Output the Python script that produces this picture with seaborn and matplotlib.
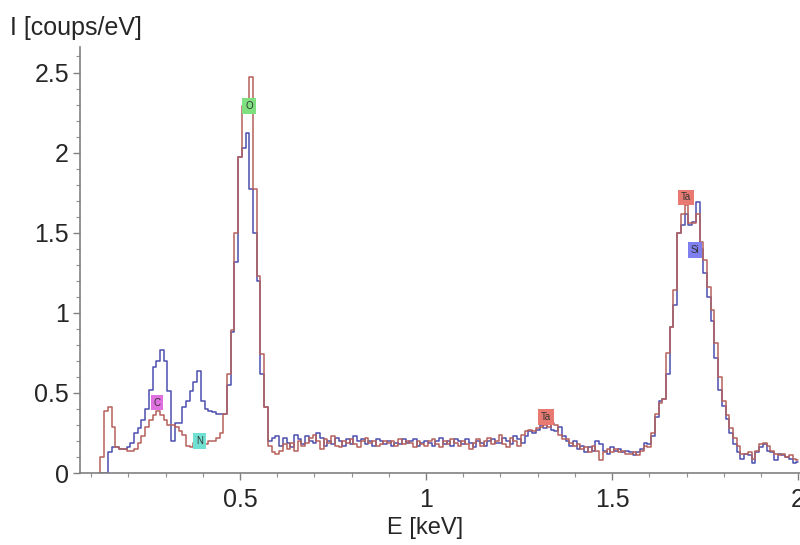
import numpy as np
import pandas as pd
import seaborn as sns
import matplotlib.pyplot as plt
from matplotlib.ticker import MultipleLocator

# Spectre EDS : deux acquisitions, canaux de 10 eV de 0.12 a 2.00 keV
e_debut = 0.12
largeur_canal = 0.01

# spectre rouge (I en coups/eV)
spectre_rouge = [
    0.00, 0.10, 0.39, 0.41, 0.29, 0.16, 0.15, 0.15,
    0.14, 0.14, 0.15, 0.19, 0.23, 0.29, 0.33, 0.36, 0.385, 0.36,
    0.33, 0.30, 0.30, 0.29, 0.26, 0.24, 0.17, 0.16, 0.19, 0.19,
    0.19, 0.18, 0.20, 0.20, 0.22, 0.25, 0.37, 0.62, 0.89, 1.50,
    1.97, 2.29, 2.29, 2.47, 1.77, 1.23, 0.74, 0.41, 0.17, 0.13,
    0.12, 0.14, 0.18, 0.15, 0.19, 0.14, 0.20, 0.17, 0.19, 0.22,
    0.24, 0.20, 0.15, 0.21, 0.19, 0.23, 0.17, 0.16, 0.20, 0.19,
    0.21, 0.18, 0.16, 0.20, 0.22, 0.19, 0.20, 0.17, 0.18, 0.20,
    0.19, 0.20, 0.17, 0.21, 0.18, 0.20, 0.19, 0.16, 0.20, 0.18,
    0.17, 0.20, 0.21, 0.18, 0.16, 0.20, 0.18, 0.21, 0.19, 0.17,
    0.20, 0.18, 0.15, 0.19, 0.21, 0.17, 0.20, 0.22, 0.18, 0.20,
    0.24, 0.18, 0.16, 0.22, 0.20, 0.17, 0.24, 0.26, 0.27, 0.26,
    0.28, 0.29, 0.30, 0.29, 0.31, 0.30, 0.24, 0.21, 0.21, 0.19,
    0.17, 0.18, 0.15, 0.16, 0.13, 0.17, 0.14, 0.08, 0.13, 0.15,
    0.13, 0.15, 0.13, 0.14, 0.12, 0.12, 0.13, 0.11, 0.14, 0.17,
    0.16, 0.25, 0.37, 0.44, 0.46, 0.75, 0.91, 1.14, 1.50, 1.62,
    1.67, 1.56, 1.56, 1.62, 1.44, 1.33, 1.16, 1.02, 0.81, 0.60,
    0.45, 0.36, 0.28, 0.22, 0.17, 0.12, 0.12, 0.13, 0.09, 0.14,
    0.18, 0.19, 0.17, 0.14, 0.12, 0.11, 0.12, 0.10, 0.11, 0.09,
    0.08,
]

# spectre bleu
spectre_bleu = [
    0.00, 0.00, 0.00, 0.13, 0.16, 0.16, 0.15, 0.15,
    0.16, 0.19, 0.25, 0.28, 0.33, 0.40, 0.52, 0.66, 0.70, 0.77,
    0.70, 0.51, 0.20, 0.31, 0.31, 0.41, 0.45, 0.51, 0.57, 0.64,
    0.45, 0.40, 0.39, 0.38, 0.37, 0.37, 0.37, 0.55, 0.88, 1.32,
    1.97, 2.03, 2.12, 1.77, 1.50, 1.20, 0.62, 0.41, 0.20, 0.22,
    0.23, 0.17, 0.22, 0.19, 0.16, 0.24, 0.21, 0.18, 0.23, 0.20,
    0.19, 0.25, 0.22, 0.17, 0.20, 0.18, 0.22, 0.20, 0.17, 0.21,
    0.18, 0.23, 0.20, 0.21, 0.18, 0.20, 0.17, 0.21, 0.20, 0.18,
    0.20, 0.17, 0.19, 0.18, 0.21, 0.19, 0.20, 0.21, 0.17, 0.19,
    0.20, 0.19, 0.17, 0.20, 0.22, 0.18, 0.20, 0.17, 0.21, 0.20,
    0.18, 0.21, 0.19, 0.16, 0.20, 0.19, 0.17, 0.20, 0.21, 0.19,
    0.19, 0.22, 0.20, 0.18, 0.23, 0.21, 0.19, 0.23, 0.26, 0.25,
    0.27, 0.30, 0.28, 0.31, 0.27, 0.26, 0.29, 0.23, 0.20, 0.17,
    0.20, 0.15, 0.17, 0.13, 0.16, 0.14, 0.20, 0.18, 0.14, 0.12,
    0.16, 0.14, 0.15, 0.13, 0.14, 0.13, 0.11, 0.13, 0.15, 0.19,
    0.18, 0.23, 0.35, 0.45, 0.46, 0.62, 0.91, 1.05, 1.50, 1.55,
    1.62, 1.55, 1.57, 1.69, 1.40, 1.25, 1.10, 0.95, 0.72, 0.52,
    0.42, 0.34, 0.25, 0.18, 0.13, 0.09, 0.12, 0.11, 0.06, 0.13,
    0.16, 0.18, 0.14, 0.13, 0.08, 0.12, 0.11, 0.10, 0.09, 0.06,
    0.07,
]

# etiquettes des raies : (texte, energie keV, intensite, couleur)
raies = [
    ("O", 0.524, 2.29, "#7fe07f"),
    ("C", 0.277, 0.44, "#e070e0"),
    ("N", 0.392, 0.20, "#70e0d2"),
    ("Ta", 1.323, 0.35, "#e87a72"),
    ("Ta", 1.699, 1.72, "#e87a72"),
    ("Si", 1.723, 1.39, "#7f7ff0"),
]

energie = np.round(e_debut + largeur_canal * np.arange(len(spectre_rouge)), 2)
df = pd.DataFrame({"E": energie, "rouge": spectre_rouge, "bleu": spectre_bleu})

sns.set_theme(style="ticks")
plt.rcParams["font.family"] = ["Liberation Sans", "DejaVu Sans"]

fig = plt.figure(figsize=(8, 5.45), dpi=100)
ax = fig.add_axes([0.1, 0.132, 0.9, 0.782])

sns.lineplot(data=df, x="E", y="bleu", ax=ax, color="#4b4fae", linewidth=1.1,
             drawstyle="steps-mid")
sns.lineplot(data=df, x="E", y="rouge", ax=ax, color="#b5615b", linewidth=1.1,
             drawstyle="steps-mid")

for texte, e, i, couleur in raies:
    ax.text(e, i, texte, fontsize=7, color="#333333", ha="center", va="center",
            bbox=dict(boxstyle="square,pad=0.3", fc=couleur, ec="none"))

ax.set_xlim(0.07, 2.005)
ax.set_ylim(0, 2.66)
ax.set_xticks([0.5, 1, 1.5, 2])
ax.set_xticklabels(["0.5", "1", "1.5", "2"])
ax.set_yticks([0, 0.5, 1, 1.5, 2, 2.5])
ax.set_yticklabels(["0", "0.5", "1", "1.5", "2", "2.5"])
ax.xaxis.set_minor_locator(MultipleLocator(0.1))
ax.yaxis.set_minor_locator(MultipleLocator(0.1))
ax.tick_params(which="major", length=5, width=1, color="#808080",
               labelsize=18)
ax.tick_params(axis="x", which="major", pad=6)
ax.tick_params(axis="y", which="major", pad=3)
ax.tick_params(which="minor", length=3, width=0.8, color="#909090")

sns.despine(ax=ax)
for cote in ["left", "bottom"]:
    ax.spines[cote].set_color("#808080")
    ax.spines[cote].set_linewidth(1.2)

ax.set_xlabel("")
ax.set_ylabel("")
fig.text(0.012, 0.948, "I [coups/eV]", fontsize=18, ha="left", va="center")
fig.text(0.531, 0.031, "E [keV]", fontsize=17, ha="center", va="center")

fig.savefig("out.png", dpi=100, facecolor="white")
